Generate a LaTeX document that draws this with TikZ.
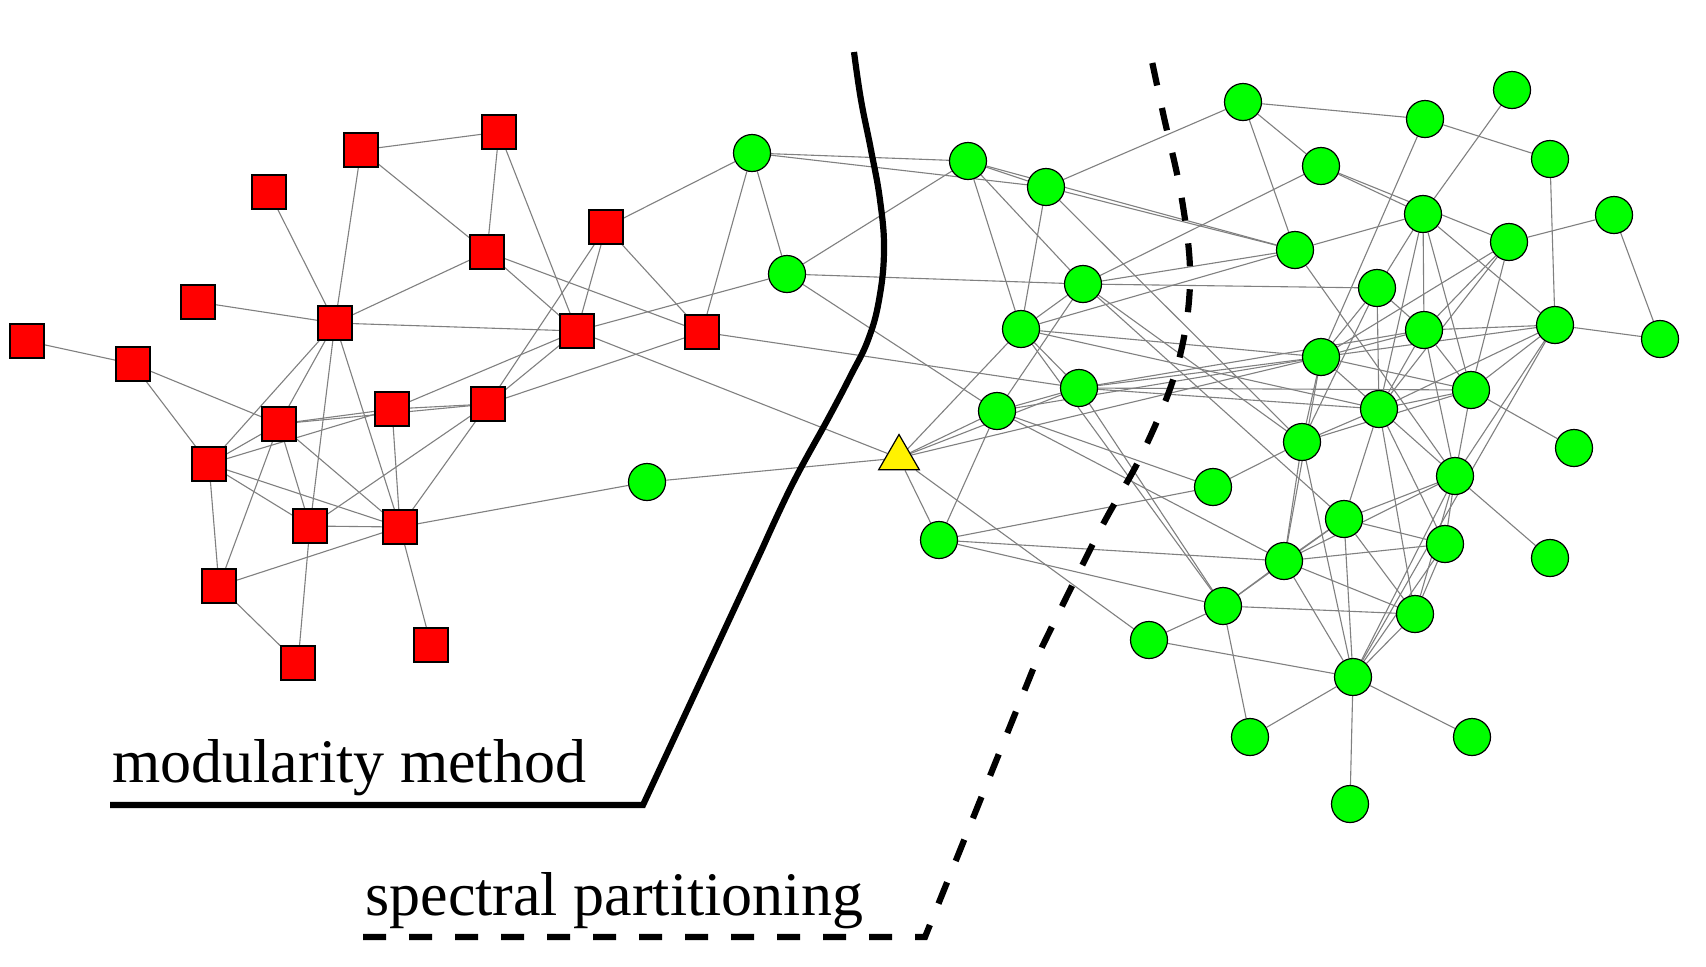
\documentclass[tikz,border=0pt]{standalone}
\usepackage{fontspec}
\setmainfont{Liberation Serif}
\usetikzlibrary{shapes.geometric,backgrounds}
\definecolor{edgegray}{RGB}{128,128,128}
\begin{document}
\begin{tikzpicture}[x=0.5pt,y=-0.5pt,
  sq/.style={rectangle,draw=black,line width=0.6pt,fill=red,minimum size=17pt,inner sep=0pt},
  gc/.style={circle,draw=black,line width=0.6pt,fill=green,minimum size=18.5pt,inner sep=0pt},
  tri/.style={regular polygon,regular polygon sides=3,draw=black,line width=0.6pt,fill=yellow,minimum size=23.5pt,inner sep=0pt},
  edge/.style={draw=edgegray,line width=0.55pt},
  cutline/.style={draw=black,line width=3.1pt},
  cutdashed/.style={draw=black,line width=3.1pt,dash pattern=on 11.5pt off 11.5pt},
  lbl/.style={font=\fontsize{31}{37}\selectfont,inner sep=0pt,anchor=base west}]
\useasboundingbox (0,0) rectangle (1706,966);
% red squares
\node[sq] (R1) at (27,341) {};
\node[sq] (R2) at (133,364) {};
\node[sq] (R3) at (198,302) {};
\node[sq] (R4) at (269,192) {};
\node[sq] (R5) at (361,150) {};
\node[sq] (R6) at (499,132) {};
\node[sq] (R7) at (487,252) {};
\node[sq] (R8) at (335,323) {};
\node[sq] (R9) at (606,227) {};
\node[sq] (R10) at (577,331) {};
\node[sq] (R11) at (702,332) {};
\node[sq] (R12) at (279,424) {};
\node[sq] (R13) at (392,409) {};
\node[sq] (R14) at (488,404) {};
\node[sq] (R15) at (209,464) {};
\node[sq] (R16) at (310,526) {};
\node[sq] (R17) at (400,527) {};
\node[sq] (R18) at (219,586) {};
\node[sq] (R19) at (298,663) {};
\node[sq] (R20) at (431,645) {};
% triangle
\node[tri] (T) at (899,458) {};
% green circles
\node[gc] (G1) at (752,153) {};
\node[gc] (G2) at (787,274) {};
\node[gc] (G3) at (647,482) {};
\node[gc] (G4) at (968,161) {};
\node[gc] (G5) at (1046,187) {};
\node[gc] (G6) at (1243,102) {};
\node[gc] (G7) at (1425,119) {};
\node[gc] (G8) at (1512,90) {};
\node[gc] (G9) at (1321,166) {};
\node[gc] (G10) at (1550,159) {};
\node[gc] (G11) at (1423,214) {};
\node[gc] (G12) at (1614,215) {};
\node[gc] (G13) at (1509,242) {};
\node[gc] (G14) at (1295,250) {};
\node[gc] (G15) at (1083,284) {};
\node[gc] (G16) at (1377,288) {};
\node[gc] (G17) at (1021,329) {};
\node[gc] (G18) at (1424,330) {};
\node[gc] (G19) at (1555,325) {};
\node[gc] (G20) at (1660,339) {};
\node[gc] (G21) at (1321,357) {};
\node[gc] (G22) at (1079,388) {};
\node[gc] (G23) at (1471,390) {};
\node[gc] (G24) at (997,411) {};
\node[gc] (G25) at (1379,409) {};
\node[gc] (G26) at (1302,442) {};
\node[gc] (G27) at (1574,448) {};
\node[gc] (G28) at (1213,487) {};
\node[gc] (G29) at (1455,476) {};
\node[gc] (G30) at (939,540) {};
\node[gc] (G31) at (1344,519) {};
\node[gc] (G32) at (1445,544) {};
\node[gc] (G33) at (1550,558) {};
\node[gc] (G34) at (1284,561) {};
\node[gc] (G35) at (1223,606) {};
\node[gc] (G36) at (1415,614) {};
\node[gc] (G37) at (1149,640) {};
\node[gc] (G38) at (1353,677) {};
\node[gc] (G39) at (1250,737) {};
\node[gc] (G40) at (1472,737) {};
\node[gc] (G41) at (1350,804) {};
% labels
\node[lbl] (modlabel) at (112,782) {modularity method};
\node[lbl] (speclabel) at (365,915) {spectral partitioning};
% cut lines
\draw[cutline] (110,805) -- (643,805) -- plot[smooth,tension=0.7] coordinates {(763,547) (793,483) (829,417) (851,375) (868,340) (879,300) (884,250) (880,200) (871,150) (861,100) (854,52)};
\draw[cutdashed] (363,937) -- (925,937) -- plot[smooth,tension=0.6] coordinates {(1042,647) (1100,530) (1143,452) (1177,367) (1190,283) (1182,200) (1163,113) (1150,52)};
% edges behind nodes
\begin{pgfonlayer}{background}
\fill[white] (0,0) rectangle (1706,966);
\foreach \a/\b in {R1/R2,R2/R15,R2/R12,R3/R8,R4/R8,R5/R6,R5/R7,R5/R8,R6/R7,R6/R10,R7/R8,R7/R10,R7/R11,R8/R10,R8/R15,R8/R12,R8/R16,R8/R17,R9/R10,R9/R11,R9/R14,R9/G1,R10/R14,R10/R13,R10/G2,R10/T,R11/R14,R11/G1,R11/G22,R12/R13,R12/R14,R12/R15,R12/R16,R12/R17,R12/R18,R13/R14,R13/R15,R13/R17,R14/R16,R14/R17,R15/R16,R15/R17,R15/R18,R16/R17,R16/R19,R17/R18,R17/R20,R17/G3,R18/R19}
  \draw[edge] (\a) -- (\b);
\foreach \a/\b in {G1/G2,G1/G4,G1/G5,G2/G4,G2/G15,G2/G24,G3/T,T/G17,T/G24,T/G22,T/G21,T/G30,T/G37,G4/G5,G4/G14,G4/G17,G4/G15,G5/G14,G5/G17,G5/G26,G5/G6,G6/G7,G6/G9,G6/G14,G7/G10,G7/G21,G8/G11,G9/G11,G9/G13,G9/G15,G10/G19,G11/G14,G11/G19,G11/G16,G11/G18,G11/G25,G11/G23,G12/G13,G12/G20,G13/G21,G13/G18,G13/G23,G13/G25,G14/G15,G14/G17,G14/G29,G15/G16,G15/G17,G15/G24,G15/G26,G15/G31,G16/G21,G16/G18,G16/G25,G16/G26,G17/G22,G17/G35,G17/G25,G17/G21,G18/G25,G18/G23,G18/G19,G18/G29,G18/G21,G19/G20,G19/G23,G19/G25,G19/G29,G19/G21,G19/G38,G21/G23,G21/G26,G21/G34,G21/G29,G22/G35,G22/G21,G22/G18,G22/G23,G22/G25,G22/G24,G23/G25,G23/G27,G23/G29,G23/G26,G24/G30,G24/G28,G24/G34,G24/G21,G25/G26,G25/G36,G25/G32,G25/G31,G26/G28,G26/G34,G26/G38,G28/G30,G29/G31,G29/G32,G29/G33,G29/G36,G29/G38,G29/G34,G30/G34,G30/G35,G31/G34,G31/G32,G31/G36,G31/G38,G31/G35,G32/G34,G32/G36,G32/G38,G34/G36,G34/G38,G34/G35,G35/G36,G35/G37,G35/G39,G36/G38,G37/G38,G38/G39,G38/G40,G38/G41}
  \draw[edge] (\a) -- (\b);
\end{pgfonlayer}
\end{tikzpicture}
\end{document}
